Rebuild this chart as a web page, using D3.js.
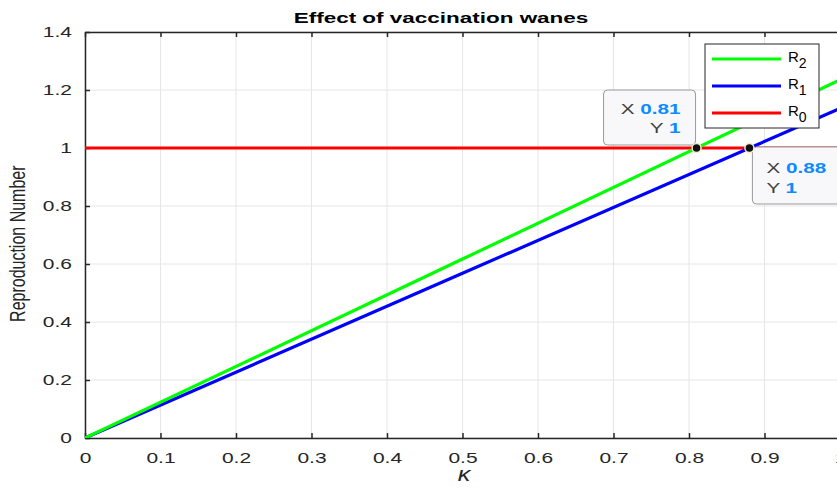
<!DOCTYPE html>
<html>
<head>
<meta charset="utf-8">
<script src="https://cdn.jsdelivr.net/npm/d3@7"></script>
<style>
  body { margin: 0; background: #fff; }
  text { font-family: "Liberation Sans", Arial, sans-serif; }
</style>
</head>
<body>
<script>
const kappa = [0, 0.5, 1]
const r2 = [0, 0.617, 1.235]
const r1 = [0, 0.568, 1.136]
const r0 = [1, 1, 1]
const xTicks = [0, 0.1, 0.2, 0.3, 0.4, 0.5, 0.6, 0.7, 0.8, 0.9, 1]
const yTicks = [0, 0.2, 0.4, 0.6, 0.8, 1, 1.2, 1.4]
const tips = [{ x: 0.81, y: 1 }, { x: 0.88, y: 1 }]

const d3 = window.d3
const W = 837
const H = 488
const SX = 1.4 // the figure text is stretched sideways

const xScale = d3.scaleLinear().domain([0, 1]).range([85, 840])
const yScale = d3.scaleLinear().domain([0, 1.4]).range([438, 32])

const svg = d3.select('body').append('svg')
  .attr('width', W).attr('height', H)

function stretchedText (parent, x, y, size, sx) {
  return parent.append('g').attr('transform', `translate(${x},${y}) scale(${sx},1)`)
    .append('text').style('font-size', size + 'px')
}

const fmt = d => d === 0 ? '0' : d === 1 ? '1' : d3.format('.1f')(d)

// grid
svg.append('g').selectAll('line').data(xTicks).join('line')
  .attr('x1', d => xScale(d)).attr('x2', d => xScale(d))
  .attr('y1', yScale(0)).attr('y2', yScale(1.4))
  .attr('stroke', '#e6e6e6').attr('stroke-width', 1)
svg.append('g').selectAll('line').data(yTicks).join('line')
  .attr('x1', xScale(0)).attr('x2', xScale(1))
  .attr('y1', d => yScale(d)).attr('y2', d => yScale(d))
  .attr('stroke', '#e6e6e6').attr('stroke-width', 1)

// axes (box on: top carries ticks but no labels)
const xAxis = svg.append('g')
  .attr('transform', `translate(0,${yScale(0)})`)
  .call(d3.axisBottom(xScale).tickValues(xTicks).tickSizeInner(-5).tickSizeOuter(0).tickPadding(14).tickFormat(fmt))
const xTop = svg.append('g')
  .attr('transform', `translate(0,${yScale(1.4)})`)
  .call(d3.axisTop(xScale).tickValues(xTicks).tickSizeInner(-5).tickSizeOuter(0).tickFormat(''))
const yAxis = svg.append('g')
  .attr('transform', `translate(${xScale(0)},0)`)
  .call(d3.axisLeft(yScale).tickValues(yTicks).tickSizeInner(-5).tickSizeOuter(0).tickPadding(13).tickFormat(fmt))
for (const ax of [xAxis, xTop, yAxis]) {
  ax.select('.domain').attr('stroke', '#262626').attr('stroke-width', 1.5)
  ax.selectAll('.tick line').attr('stroke', '#262626').attr('stroke-width', 1.5)
  ax.selectAll('.tick text').attr('fill', '#262626').style('font-size', '15px')
    .attr('font-family', null)
}
xAxis.selectAll('.tick text').attr('transform', `scale(${SX},1)`)
yAxis.selectAll('.tick text').attr('x', -13 / SX).attr('transform', `scale(${SX},1)`)

// lines
const series = [
  { name: '2', vals: r2, color: '#00ff00' },
  { name: '1', vals: r1, color: '#0000ff' },
  { name: '0', vals: r0, color: '#ff0000' }
]
const line = d3.line().x((d, i) => xScale(kappa[i])).y(d => yScale(d))
svg.append('clipPath').attr('id', 'plot')
  .append('rect').attr('x', xScale(0)).attr('y', yScale(1.4))
  .attr('width', xScale(1) - xScale(0)).attr('height', yScale(0) - yScale(1.4))
const lines = svg.append('g').attr('clip-path', 'url(#plot)')
series.slice().reverse().forEach(s => {
  lines.append('path').datum(s.vals)
    .attr('d', line).attr('fill', 'none')
    .attr('stroke', s.color).attr('stroke-width', 3.2)
})

// legend
const leg = svg.append('g').attr('transform', 'translate(705,44)')
leg.append('rect').attr('width', 114).attr('height', 84)
  .attr('fill', '#fff').attr('stroke', '#262626').attr('stroke-width', 1)
series.forEach((s, i) => {
  const y = 15 + i * 27
  leg.append('line').attr('x1', 7).attr('x2', 76).attr('y1', y).attr('y2', y)
    .attr('stroke', s.color).attr('stroke-width', 3.2)
  const t = leg.append('text').attr('x', 83).attr('y', y + 3)
    .attr('fill', '#000').style('font-size', '15px').text('R')
  t.append('tspan').attr('dy', 6).style('font-size', '14px').text(s.name)
})

// data tips
const tipBoxes = [
  { x: -93, y: -58, w: 92, h: 55, tx: -15, anchor: 'end' },
  { x: 3, y: -1, w: 100, h: 57, tx: 14, anchor: 'start' }
]
tips.forEach((tp, i) => {
  const px = xScale(tp.x)
  const py = yScale(tp.y)
  const b = tipBoxes[i]
  const g = svg.append('g').attr('transform', `translate(${px + b.x},${py + b.y})`)
  g.append('rect').attr('width', b.w).attr('height', b.h).attr('rx', 4)
    .attr('fill', '#f8f8fa').attr('stroke', '#9a9a9a').attr('stroke-width', 1)
  const rows = [['X', d3.format('.2f')(tp.x)], ['Y', String(tp.y)]]
  const baseY = i === 0 ? [24, 43] : [26, 46]
  rows.forEach((r, j) => {
    const ax = b.anchor === 'end' ? b.w + b.tx : b.tx
    const t = stretchedText(g, ax, baseY[j], 15, 1.38).attr('text-anchor', b.anchor)
    t.append('tspan').attr('fill', '#404040').text(r[0] + ' ')
    t.append('tspan').attr('fill', '#0a8cff').attr('font-weight', 'bold').text(r[1])
  })
  svg.append('circle').attr('cx', px).attr('cy', py).attr('r', 4.5)
    .attr('fill', '#111').attr('stroke', '#f5eccc').attr('stroke-width', 1.5)
})

// labels
stretchedText(svg, 441, 23, 15.5, 1.45).attr('text-anchor', 'middle')
  .attr('font-weight', 'bold').attr('fill', '#000').text('Effect of vaccination wanes')
svg.append('g').attr('transform', `translate(25,${yScale(0.67)}) scale(1.33,1) rotate(-90)`)
  .append('text').attr('text-anchor', 'middle').attr('fill', '#262626').style('font-size', '16px')
  .text('Reproduction Number')
stretchedText(svg, 464, 481, 21, 1.2).attr('text-anchor', 'middle')
  .attr('fill', '#262626').attr('font-style', 'italic').text('κ')
</script>
</body>
</html>
